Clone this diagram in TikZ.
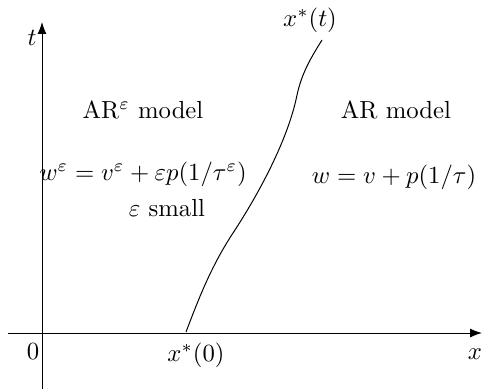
\documentclass[tikz,border=0pt]{standalone}
\usepackage{tikz}
\usetikzlibrary{arrows.meta}

\begin{document}
\begin{tikzpicture}[x=0.405pt,y=-0.405pt,>=Latex,
  lbl/.style={inner sep=0pt,anchor=center}]
\useasboundingbox (0,0) rectangle (483,389);
% axes
\coordinate (xs) at (8,333);
\coordinate (xe) at (482,333);
\coordinate (ts) at (42,389);
\coordinate (te) at (42,22);
\draw[->] (xs) -- (xe);
\draw[->] (ts) -- (te);
\node[lbl] (tlab) at (32,38) {$t$};
\node[lbl] (xlab) at (475,354) {$x$};
\node[lbl] (zero) at (33,352) {$0$};
\node[lbl] (x0) at (196,355) {$x^*(0)$};
\node[lbl] (xt) at (310,20) {$x^*(t)$};
% regions
\node[lbl] (arl) at (143,110) {AR$^\varepsilon$ model};
\node[lbl] (eql) at (143,174) {$w^\varepsilon = v^\varepsilon + \varepsilon p(1/\tau^\varepsilon)$};
\node[lbl] (sml) at (167,208) {$\varepsilon$ small};
\node[lbl] (arr) at (396,110) {AR model};
\node[lbl] (eqr) at (394,177) {$w = v + p(1/\tau)$};
% trajectory
\coordinate (c0) at (186,332);
\coordinate (c1) at (233,233);
\coordinate (c2) at (297,95);
\coordinate (c3) at (322,40);
\draw (c0) .. controls (200,295) and (212,265) .. (c1)
           .. controls (258,195) and (288,140) .. (c2)
           .. controls (302,72) and (312,56) .. (c3);
\end{tikzpicture}
\end{document}
